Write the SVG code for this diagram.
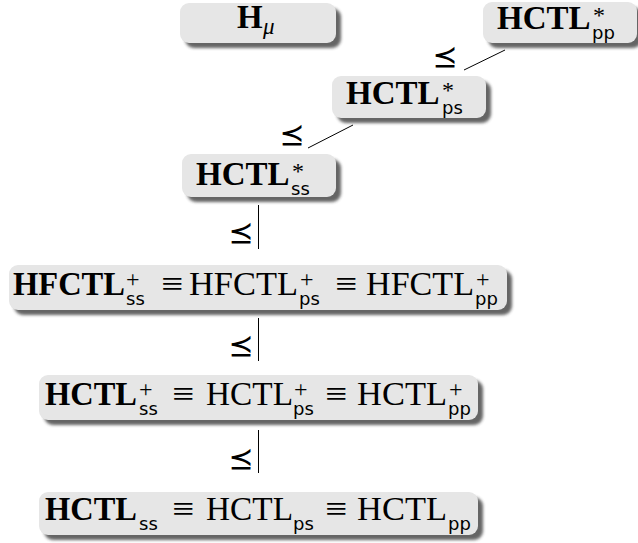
<svg xmlns="http://www.w3.org/2000/svg" width="638" height="543" viewBox="0 0 638 543">
  <style>
    .box { fill: #e6e6e6; }
    .shadow { fill: #333333; opacity: 0.75; filter: url(#soft); }
    .b { font-family: "Liberation Serif", serif; font-weight: bold; font-size: 33px; fill: #000; }
    .r { font-family: "Liberation Serif", serif; font-size: 33px; fill: #000; }
    .eq { font-family: "Liberation Serif", serif; font-size: 34px; fill: #000; }
    .sub { font-family: "DejaVu Sans", sans-serif; font-size: 18px; fill: #000; }
    .sup { font-family: "Liberation Serif", serif; font-size: 24px; fill: #000; }
    .mu { font-family: "Liberation Serif", serif; font-style: italic; font-size: 23px; fill: #000; }
    .edge { stroke: #000; stroke-width: 1; fill: none; }
    .lbl { font-family: "DejaVu Serif", "DejaVu Sans", serif; font-size: 30px; fill: #000; text-anchor: middle; }
  </style>
  <defs>
    <filter id="soft" x="-10%" y="-30%" width="120%" height="160%">
      <feGaussianBlur stdDeviation="1.6"/>
    </filter>
  </defs>

  <rect width="638" height="543" fill="#ffffff"/>

  <!-- connectors with their order labels -->
  <g id="connectors">
    <line class="edge" x1="308" y1="148" x2="353" y2="125"/>
    <text class="lbl" x="292" y="145">⪯</text>
    <line class="edge" x1="464" y1="70" x2="505" y2="50"/>
    <text class="lbl" x="445" y="67">⪯</text>
    <line class="edge" x1="258.5" y1="205" x2="258.5" y2="249"/>
    <text class="lbl" x="241" y="243">⪯</text>
    <line class="edge" x1="258.5" y1="318" x2="258.5" y2="361"/>
    <text class="lbl" x="241" y="356">⪯</text>
    <line class="edge" x1="258.5" y1="430" x2="258.5" y2="473"/>
    <text class="lbl" x="241" y="469">⪯</text>
  </g>

  <g id="n-hmu">
    <rect class="shadow" x="185" y="8" width="156" height="40" rx="9"/>
    <rect class="box" x="180" y="3" width="156" height="40" rx="9"/>
    <text><tspan class="b" x="237" y="28">H</tspan><tspan class="mu" x="263" y="34">μ</tspan></text>
  </g>

  <g id="n-hctl-star-pp">
    <rect class="shadow" x="488" y="7" width="154" height="41" rx="9"/>
    <rect class="box" x="483" y="2" width="154" height="41" rx="9"/>
    <text><tspan class="b" x="497" y="29">HCTL</tspan><tspan class="sup" x="593" y="23">*</tspan><tspan class="sub" x="592" y="39">pp</tspan></text>
  </g>

  <g id="n-hctl-star-ps">
    <rect class="shadow" x="337" y="81" width="154" height="42" rx="9"/>
    <rect class="box" x="332" y="76" width="154" height="42" rx="9"/>
    <text><tspan class="b" x="346" y="104">HCTL</tspan><tspan class="sup" x="442" y="98">*</tspan><tspan class="sub" x="442" y="114">ps</tspan></text>
  </g>

  <g id="n-hctl-star-ss">
    <rect class="shadow" x="187" y="159" width="154" height="43" rx="9"/>
    <rect class="box" x="182" y="154" width="154" height="43" rx="9"/>
    <text><tspan class="b" x="196" y="185">HCTL</tspan><tspan class="sup" x="292" y="179">*</tspan><tspan class="sub" x="291" y="195">ss</tspan></text>
  </g>

  <g id="n-hfctl-plus">
    <rect class="shadow" x="14" y="270" width="498" height="45" rx="9"/>
    <rect class="box" x="9" y="265" width="498" height="45" rx="9"/>
    <text><tspan class="b" x="13" y="295" textLength="112" lengthAdjust="spacingAndGlyphs">HFCTL</tspan><tspan class="sup" x="126" y="287">+</tspan><tspan class="sub" x="126" y="305">ss</tspan><tspan class="eq" x="161" y="295" textLength="22" lengthAdjust="spacingAndGlyphs">≡</tspan><tspan class="r" x="189" y="295" textLength="109" lengthAdjust="spacingAndGlyphs">HFCTL</tspan><tspan class="sup" x="300" y="287">+</tspan><tspan class="sub" x="299" y="305">ps</tspan><tspan class="eq" x="335" y="295" textLength="22" lengthAdjust="spacingAndGlyphs">≡</tspan><tspan class="r" x="366" y="295" textLength="108" lengthAdjust="spacingAndGlyphs">HFCTL</tspan><tspan class="sup" x="476" y="287">+</tspan><tspan class="sub" x="475" y="305">pp</tspan></text>
  </g>

  <g id="n-hctl-plus">
    <rect class="shadow" x="44" y="380" width="439" height="45" rx="9"/>
    <rect class="box" x="39" y="375" width="439" height="45" rx="9"/>
    <text><tspan class="b" x="45" y="405" textLength="92" lengthAdjust="spacingAndGlyphs">HCTL</tspan><tspan class="sup" x="139" y="397">+</tspan><tspan class="sub" x="139" y="415">ss</tspan><tspan class="eq" x="172" y="405" textLength="22" lengthAdjust="spacingAndGlyphs">≡</tspan><tspan class="r" x="206" y="405" textLength="87" lengthAdjust="spacingAndGlyphs">HCTL</tspan><tspan class="sup" x="294" y="397">+</tspan><tspan class="sub" x="293" y="415">ps</tspan><tspan class="eq" x="325" y="405" textLength="22" lengthAdjust="spacingAndGlyphs">≡</tspan><tspan class="r" x="357" y="405" textLength="90" lengthAdjust="spacingAndGlyphs">HCTL</tspan><tspan class="sup" x="449" y="397">+</tspan><tspan class="sub" x="448" y="415">pp</tspan></text>
  </g>

  <g id="n-hctl">
    <rect class="shadow" x="44" y="497" width="439" height="43" rx="9"/>
    <rect class="box" x="39" y="492" width="439" height="43" rx="9"/>
    <text><tspan class="b" x="45" y="520" textLength="92" lengthAdjust="spacingAndGlyphs">HCTL</tspan><tspan class="sub" x="139" y="530">ss</tspan><tspan class="eq" x="172" y="520" textLength="22" lengthAdjust="spacingAndGlyphs">≡</tspan><tspan class="r" x="206" y="520" textLength="87" lengthAdjust="spacingAndGlyphs">HCTL</tspan><tspan class="sub" x="293" y="530">ps</tspan><tspan class="eq" x="325" y="520" textLength="22" lengthAdjust="spacingAndGlyphs">≡</tspan><tspan class="r" x="357" y="520" textLength="90" lengthAdjust="spacingAndGlyphs">HCTL</tspan><tspan class="sub" x="448" y="530">pp</tspan></text>
  </g>
</svg>
